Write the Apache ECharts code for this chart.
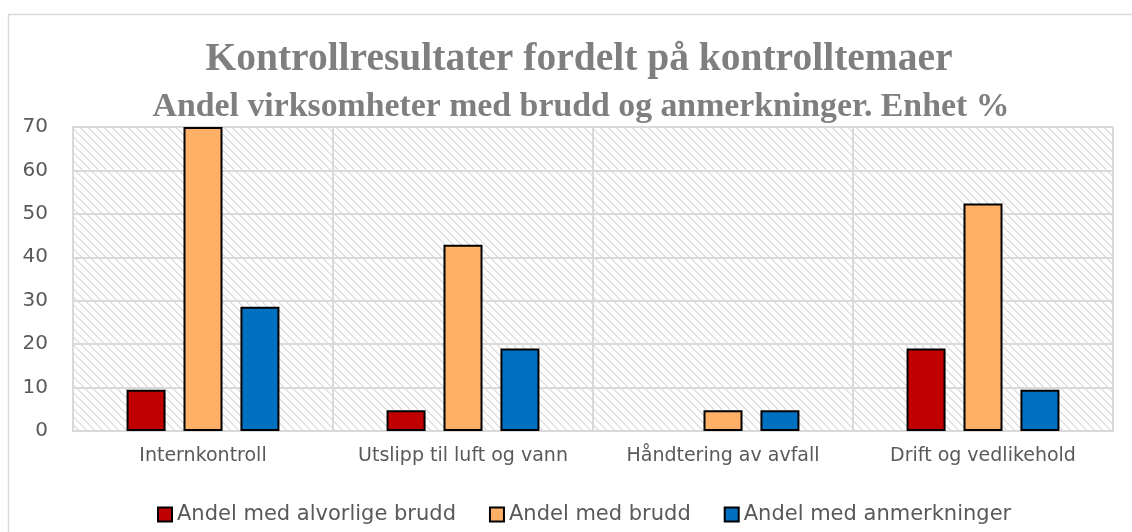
<!DOCTYPE html>
<html>
<head>
<meta charset="utf-8">
<script src="https://cdn.jsdelivr.net/npm/echarts@6/dist/echarts.min.js"></script>
<style>
html,body{margin:0;padding:0;background:#fff;}
#chart{width:1132px;height:532px;}
</style>
</head>
<body>
<div id="chart"></div>
<script>
const titleText = 'Kontrollresultater fordelt på kontrolltemaer';
const subtitleText = 'Andel virksomheter med brudd og anmerkninger. Enhet %';
const categories = ['Internkontroll', 'Utslipp til luft og vann', 'Håndtering av avfall', 'Drift og vedlikehold'];
const seriesNames = ['Andel med alvorlige brudd', 'Andel med brudd', 'Andel med anmerkninger'];
const alvorligeBrudd = [9.5, 4.8, 0, 19.0];
const brudd = [70, 42.9, 4.8, 52.4];
const anmerkninger = [28.6, 19.0, 4.8, 9.5];
const yTicks = [0, 10, 20, 30, 40, 50, 60, 70];
const colors = ['#c00000', '#ffb066', '#0070c0'];

// hatch pattern for plot background
const pat = document.createElement('canvas');
pat.width = 8; pat.height = 8;
const pc = pat.getContext('2d');
pc.fillStyle = '#ffffff';
pc.fillRect(0, 0, 8, 8);
pc.fillStyle = '#e0e0e0';
for (let i = 0; i < 8; i++) {
  pc.fillRect(i, i, 1, 1);
  pc.fillRect((i + 1) % 8, i, 1, 1);
}

const chart = echarts.init(document.getElementById('chart'), null, {renderer: 'canvas'});
const seriesData = [alvorligeBrudd, brudd, anmerkninger];
const option = {
  animation: false,
  backgroundColor: '#ffffff',
  title: [
    {
      text: titleText,
      left: 574, top: 35, textAlign: 'center',
      textStyle: {fontFamily: 'Liberation Serif', fontWeight: 'bold', fontSize: 39.5, color: '#7f7f7f'}
    },
    {
      text: subtitleText,
      left: 576, top: 85, textAlign: 'center',
      textStyle: {fontFamily: 'Liberation Serif', fontWeight: 'bold', fontSize: 33.8, color: '#7f7f7f'}
    }
  ],
  graphic: [{
    type: 'rect', silent: true,
    shape: {x: 8.5, y: 14.5, width: 1300, height: 800},
    style: {fill: 'none', stroke: '#d9d9d9', lineWidth: 1.5}
  }],
  grid: {
    left: 73, right: 19, top: 127, bottom: 101,
    show: true, borderWidth: 0,
    backgroundColor: {image: pat, repeat: 'repeat'}
  },
  legend: {
    bottom: 2, left: 152,
    itemWidth: 14, itemHeight: 14, itemGap: 33,
    icon: 'rect',
    textStyle: {fontFamily: 'DejaVu Sans', fontSize: 21, color: '#595959'},
    data: seriesNames
  },
  xAxis: {
    type: 'category',
    data: categories,
    axisTick: {show: false},
    axisLine: {show: true, lineStyle: {color: '#d9d9d9', width: 2}},
    splitLine: {show: true, interval: 0, lineStyle: {color: '#d9d9d9', width: 2}},
    axisLabel: {interval: 0, fontFamily: 'DejaVu Sans', fontSize: 19, color: '#595959', margin: 16}
  },
  yAxis: {
    type: 'value',
    min: yTicks[0], max: yTicks[yTicks.length - 1], interval: 10,
    axisLine: {show: true, lineStyle: {color: '#d9d9d9', width: 2}},
    axisTick: {show: false},
    splitLine: {show: true, lineStyle: {color: '#d9d9d9', width: 2}},
    axisLabel: {fontFamily: 'DejaVu Sans', fontSize: 20, color: '#595959', margin: 25}
  },
  series: seriesNames.map((name, i) => ({
    name: name,
    type: 'bar',
    data: seriesData[i].map(v => v === 0 ? {value: v, itemStyle: {borderWidth: 0}} : v),
    barWidth: 39,
    barGap: '46%',
    itemStyle: {color: colors[i], borderColor: '#000000', borderWidth: 2}
  }))
};
chart.setOption(option);
</script>
</body>
</html>
